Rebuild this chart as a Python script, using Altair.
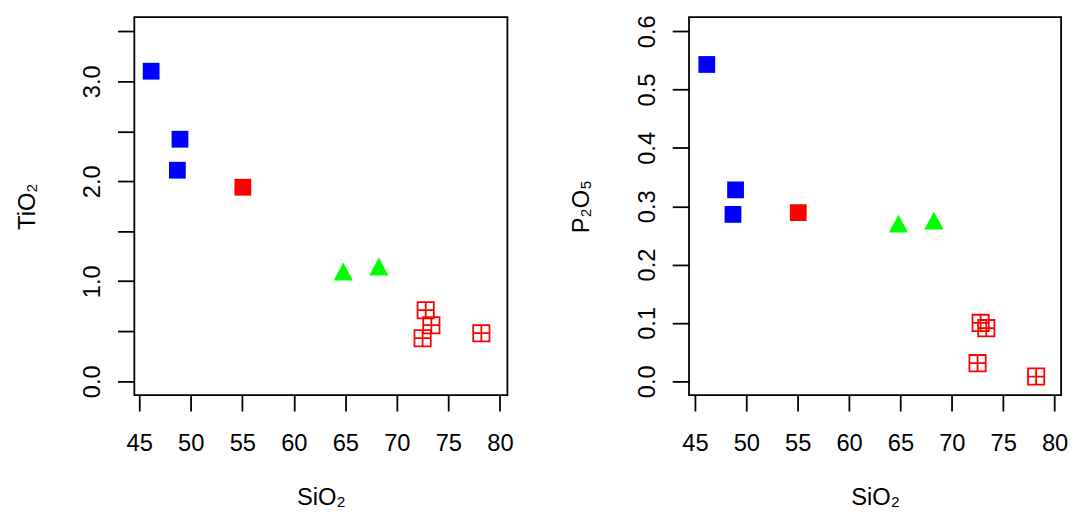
import altair as alt
import pandas as pd

# Values
sio2 = [46.15, 48.95, 48.7, 55.05, 64.8, 68.25, 72.8, 73.35, 72.5, 78.2]
tio2 = [3.10, 2.42, 2.11, 1.94, 1.09, 1.14, 0.71, 0.56, 0.43, 0.48]
p2o5 = [0.543, 0.328, 0.286, 0.289, 0.269, 0.274, 0.100, 0.091, 0.031, 0.008]
group = ["G1", "G1", "G1", "G2", "G3", "G3", "G4", "G4", "G4", "G4"]

x_ticks = [45, 50, 55, 60, 65, 70, 75, 80]
tio2_ticks = [0, 0.5, 1, 1.5, 2, 2.5, 3, 3.5]
p2o5_ticks = [0, 0.1, 0.2, 0.3, 0.4, 0.5, 0.6]

df = pd.DataFrame({"SiO2": sio2, "TiO2": tio2, "P2O5": p2o5, "group": group})

FONT = "Liberation Sans"
TRI = "M0,-1L1,0.85L-1,0.85Z"
BOXPLUS = "M-1,-1L1,-1L1,1L-1,1Z M0,-1L0,1 M-1,0L1,0"
H = 383


def panel(ycol, ytitle, ydomain, yticks, label_expr, xdomain, width):
    x = alt.X(
        "SiO2:Q",
        scale=alt.Scale(domain=xdomain, nice=False, zero=False),
        axis=alt.Axis(
            values=x_ticks, title="SiO₂", format="d", grid=False, domain=False,
            tickSize=16, tickWidth=1.8, tickColor="black",
            labelFontSize=24, labelColor="black", labelPadding=21, labelFont=FONT,
            labelFlush=False, labelOverlap=False,
            titleFontSize=24, titleFontWeight="normal", titleColor="black", titleFont=FONT,
            titleBaseline="alphabetic", titleAlign="center", titleX=width / 2, titleY=110.8,
        ),
    )
    y = alt.Y(
        f"{ycol}:Q",
        scale=alt.Scale(domain=ydomain, nice=False, zero=False),
        axis=alt.Axis(
            values=yticks, labelExpr=label_expr, title=ytitle, grid=False, domain=False,
            tickSize=17, tickWidth=1.8, tickColor="black",
            labelFontSize=24, labelColor="black", labelPadding=18, labelFont=FONT,
            labelAngle=270, labelAlign="center", labelBaseline="alphabetic",
            labelFlush=False, labelOverlap=False,
            titleFontSize=24, titleFontWeight="normal", titleColor="black", titleFont=FONT,
            titleAngle=270, titleAlign="center", titleBaseline="alphabetic",
            titleX=-101.5, titleY=H / 2,
        ),
    )
    base = alt.Chart(df).encode(x=x, y=y)
    sq = base.transform_filter(
        alt.FieldOneOfPredicate(field="group", oneOf=["G1", "G2"])
    ).mark_point(shape="square", filled=True, size=289, opacity=1).encode(
        color=alt.Color("group:N", scale=alt.Scale(domain=["G1", "G2"], range=["#0000ff", "#ff0000"]), legend=None)
    )
    tri = base.transform_filter(alt.datum.group == "G3").mark_point(
        shape=TRI, filled=True, size=380, color="#00ff00", opacity=1
    )
    opn = base.transform_filter(alt.datum.group == "G4").mark_point(
        shape=BOXPLUS, filled=False, size=272, color="#ff0000", strokeWidth=1.8, opacity=1
    )
    return alt.layer(sq, tri, opn).properties(width=width, height=H)


left = panel("TiO2", "TiO₂", [-0.14, 3.64], tio2_ticks,
             "datum.value % 1 == 0 ? format(datum.value, '.1f') : ''", [44.52, 80.73], 378)
right = panel("P2O5", "P₂O₅", [-0.024, 0.624], p2o5_ticks,
              "format(datum.value, '.1f')", [44.42, 80.63], 377)

chart = alt.hconcat(left, right, spacing=184, bounds="flush").properties(
    padding={"left": 6, "top": 2, "right": 0, "bottom": 0},
    background="white",
).configure_view(stroke="black", strokeWidth=1.8)

chart.save("out.html", embed_options={"renderer": "svg", "actions": False})
